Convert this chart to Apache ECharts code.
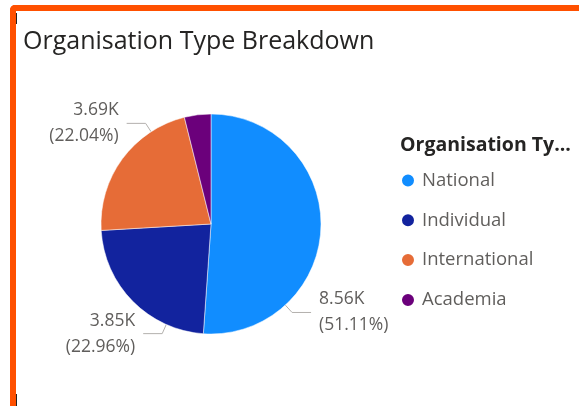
<!DOCTYPE html>
<html>
<head>
<meta charset="utf-8">
<script src="https://cdn.jsdelivr.net/npm/echarts@6/dist/echarts.min.js"></script>
<style>
  html, body { margin: 0; padding: 0; background: #fff; }
  #frame {
    position: absolute; left: 10px; top: 5px; width: 620px; height: 460px;
    border-top: 6px solid #FF5000; border-left: 6px solid #FF5000;
    border-top-left-radius: 5px; box-sizing: border-box;
  }
  .tick { position: absolute; left: 16px; width: 1px; background: #222; }
  #main { position: absolute; left: 0; top: 0; width: 579px; height: 406px; }
</style>
</head>
<body>
<div id="frame"></div>
<div class="tick" style="top:13px;height:11px"></div>
<div class="tick" style="top:394px;height:12px"></div>
<div id="main"></div>
<script>
// data
const categories = ['National', 'Individual', 'International', 'Academia'];
const values = [8560, 3845, 3691, 652];
const colors = ['#118DFF', '#12239E', '#E66C37', '#6B007B'];

// where each outside label sits on the rim (deg clockwise from top), null = hidden
const labelAngles = [137.5, 204, 327, null];

const cx = 211;
const cy = 224;
const radius = 110;
const total = values.reduce((a, b) => a + b, 0);

function fmtK (v) {
  return (v / 1000).toFixed(2) + 'K';
}

const chart = echarts.init(document.getElementById('main'));

const option = {
  backgroundColor: 'transparent',
  animation: false,
  color: colors,
  title: [
    {
      text: 'Organisation Type Breakdown',
      left: 23,
      top: 29,
      padding: 0,
      textStyle: { fontFamily: 'Open Sans', fontSize: 25, fontWeight: 'normal', color: '#252423' }
    },
    {
      text: 'Organisation Ty...',
      left: 400,
      top: 135,
      padding: 0,
      textStyle: { fontFamily: 'Open Sans', fontSize: 19.5, fontWeight: 'bold', color: '#252423' }
    }
  ],
  legend: {
    orient: 'vertical',
    left: 400,
    top: 171,
    padding: 0,
    icon: 'circle',
    itemWidth: 14,
    itemHeight: 14,
    itemGap: 20.8,
    textStyle: { fontFamily: 'Open Sans', fontSize: 18.5, color: '#605E5C', padding: [0, 0, 0, 2] },
    data: categories
  },
  series: [
    {
      type: 'pie',
      center: [cx, cy],
      radius: radius,
      startAngle: 90,
      clockwise: true,
      itemStyle: { borderColor: '#fff', borderWidth: 0.5 },
      label: {
        show: true,
        overflow: 'none',
        fontFamily: 'Open Sans',
        fontSize: 17.5,
        lineHeight: 26,
        color: '#605E5C',
        formatter: p => fmtK(p.value) + '\n(' + (p.value / total * 100).toFixed(2) + '%)'
      },
      labelLine: { show: true, lineStyle: { color: '#B3B0AD', width: 1 } },
      labelLayout: params => {
        const a = labelAngles[params.dataIndex];
        if (a === null) return {};
        const rad = a * Math.PI / 180;
        const dx = Math.sin(rad);
        const dy = -Math.cos(rad);
        const p0 = [cx + radius * dx, cy + radius * dy];
        const p1 = [p0[0] + 10 * dx, p0[1] + 10 * dy];
        const right = dx > 0;
        const p2 = [p1[0] + (right ? 19 : -19), p1[1]];
        return {
          x: p2[0] + (right ? 8 : -8),
          y: p2[1],
          align: right ? 'left' : 'right',
          verticalAlign: 'middle',
          labelLinePoints: [p0, p1, p2]
        };
      },
      data: categories.map((name, i) => ({
        name: name,
        value: values[i],
        label: { show: labelAngles[i] !== null },
        labelLine: { show: labelAngles[i] !== null }
      }))
    }
  ]
};

chart.setOption(option);
</script>
</body>
</html>
